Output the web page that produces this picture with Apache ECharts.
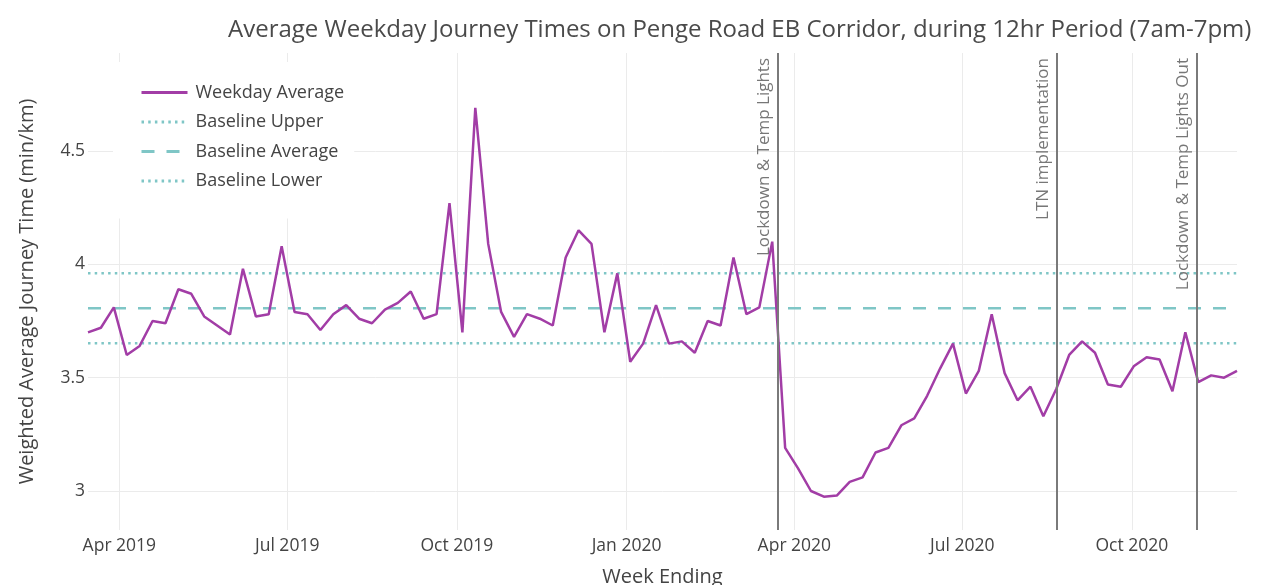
<!DOCTYPE html>
<html>
<head>
<meta charset="utf-8">
<script src="https://cdn.jsdelivr.net/npm/echarts@6/dist/echarts.min.js"></script>
<style>
  html, body { margin: 0; padding: 0; background: #fff; }
  #chart { width: 1263px; height: 585px; }
</style>
</head>
<body>
<div id="chart"></div>
<script>
// weekly values, week ending Fridays from 15 Mar 2019
const firstWeekEnding = [2019, 2, 15];
const weekdayAvg = [
  3.70, 3.72, 3.81, 3.60, 3.64, 3.75, 3.74, 3.89, 3.87, 3.77,
  3.73, 3.69, 3.98, 3.77, 3.78, 4.08, 3.79, 3.78, 3.71, 3.78,
  3.82, 3.76, 3.74, 3.80, 3.83, 3.88, 3.76, 3.78, 4.27, 3.70,
  4.69, 4.09, 3.79, 3.68, 3.78, 3.76, 3.73, 4.03, 4.15, 4.09,
  3.70, 3.96, 3.57, 3.65, 3.82, 3.65, 3.66, 3.61, 3.75, 3.73,
  4.03, 3.78, 3.81, 4.10, 3.19, 3.10, 3.00, 2.975, 2.98, 3.04,
  3.06, 3.17, 3.19, 3.29, 3.32, 3.42, 3.54, 3.65, 3.43, 3.53,
  3.78, 3.52, 3.40, 3.46, 3.33, 3.45, 3.60, 3.66, 3.61, 3.47,
  3.46, 3.55, 3.59, 3.58, 3.44, 3.70, 3.48, 3.51, 3.50, 3.53
];
const baselineUpper = 3.960;
const baselineAverage = 3.806;
const baselineLower = 3.652;

const eventDates = [[2020, 2, 23], [2020, 7, 21], [2020, 10, 5]];
const eventNames = ['Lockdown & Temp Lights', 'LTN implementation', 'Lockdown & Temp Lights Out'];

const xTicks = [[2019, 3, 1], [2019, 6, 1], [2019, 9, 1], [2020, 0, 1], [2020, 3, 1], [2020, 6, 1], [2020, 9, 1]];
const yTicks = [3, 3.5, 4, 4.5];
const monthNames = ['Jan','Feb','Mar','Apr','May','Jun','Jul','Aug','Sep','Oct','Nov','Dec'];

function ts(d) { return new Date(d[0], d[1], d[2]).getTime(); }

const weeks = weekdayAvg.map((v, i) => new Date(firstWeekEnding[0], firstWeekEnding[1], firstWeekEnding[2] + 7 * i).getTime());
const xMin = weeks[0];
const xMax = weeks[weeks.length - 1];

const font = 'Open Sans';
const teal = '#7fc6c6';

let myChart = echarts.init(document.getElementById('chart'));
const option = {
  backgroundColor: '#fff',
  animation: false,
  title: {
    text: 'Average Weekday Journey Times on Penge Road EB Corridor, during 12hr Period (7am-7pm)',
    left: 223,
    top: 13,
    textStyle: { fontFamily: font, fontSize: 24, fontWeight: 'normal', color: '#4a4a4a' }
  },
  legend: {
    orient: 'vertical',
    left: 113,
    top: 62,
    padding: [21.5, 10, 28.5, 27],
    itemGap: 11.5,
    itemWidth: 46,
    itemHeight: 14,
    backgroundColor: '#fff',
    itemStyle: { opacity: 0 },
    lineStyle: { width: 3 },
    textStyle: { fontFamily: font, fontSize: 18, color: '#444', padding: [0, 0, 0, 3] },
    data: ['Weekday Average', 'Baseline Upper', 'Baseline Average', 'Baseline Lower']
  },
  grid: { left: 88, right: 26, top: 53, bottom: 55, outerBoundsMode: 'none' },
  xAxis: {
    type: 'value',
    min: xMin,
    max: xMax,
    name: 'Week Ending',
    nameLocation: 'middle',
    nameGap: 37,
    nameTextStyle: { fontFamily: font, fontSize: 20, color: '#444' },
    axisLine: { show: false },
    axisTick: { show: false, customValues: xTicks.map(ts) },
    axisLabel: {
      customValues: xTicks.map(ts),
      margin: 7,
      fontFamily: font,
      fontSize: 17.5,
      color: '#444',
      formatter: function (val) {
        const d = new Date(val);
        return monthNames[d.getMonth()] + ' ' + d.getFullYear();
      }
    },
    splitLine: { show: true, lineStyle: { color: '#ebebeb', width: 1 } }
  },
  yAxis: {
    type: 'value',
    min: 2.828,
    max: 4.932,
    name: 'Weighted Average Journey Time (min/km)',
    nameLocation: 'middle',
    nameGap: 51,
    nameRotate: 90,
    nameTextStyle: { fontFamily: font, fontSize: 20, color: '#444' },
    axisLine: { show: false },
    axisTick: { show: false, customValues: yTicks },
    axisLabel: { customValues: yTicks, margin: 3, fontFamily: font, fontSize: 17.5, color: '#444' },
    splitLine: { show: true, lineStyle: { color: '#ebebeb', width: 1 } }
  },
  series: [
    {
      name: 'Weekday Average',
      type: 'line',
      z: 4,
      symbol: 'none',
      data: weeks.map((t, i) => [t, weekdayAvg[i]]),
      lineStyle: { color: '#a23da6', width: 2.5 },
      itemStyle: { color: '#a23da6' },
      markLine: {
        silent: true,
        symbol: ['none', 'none'],
        lineStyle: { color: '#7a7a7a', width: 2, type: 'solid' },
        label: {
          show: true,
          position: 'insideEndTop',
          distance: 5,
          fontFamily: font,
          fontSize: 17,
          color: '#777',
          formatter: '{b}'
        },
        data: eventDates.map((d, i) => ({ name: eventNames[i], xAxis: ts(d) }))
      }
    },
    {
      name: 'Baseline Upper',
      type: 'line',
      symbol: 'none',
      data: weeks.map(t => [t, baselineUpper]),
      lineStyle: { color: teal, width: 2.5, type: [2.5, 4.2] },
      itemStyle: { color: teal }
    },
    {
      name: 'Baseline Average',
      type: 'line',
      symbol: 'none',
      data: weeks.map(t => [t, baselineAverage]),
      lineStyle: { color: teal, width: 2.5, type: [13, 12] },
      itemStyle: { color: teal }
    },
    {
      name: 'Baseline Lower',
      type: 'line',
      symbol: 'none',
      data: weeks.map(t => [t, baselineLower]),
      lineStyle: { color: teal, width: 2.5, type: [2.5, 4.2] },
      itemStyle: { color: teal }
    }
  ]
};
myChart.setOption(option);
</script>
</body>
</html>
